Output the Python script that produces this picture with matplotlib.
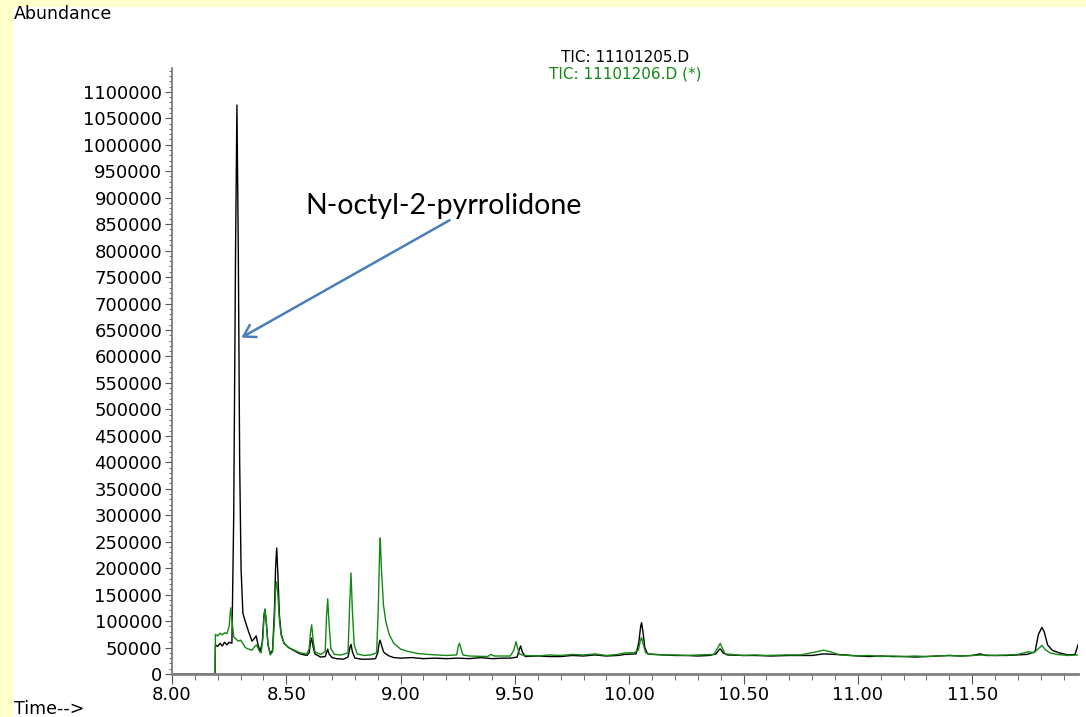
import matplotlib.pyplot as plt
from matplotlib.ticker import MultipleLocator, FormatStrFormatter, FuncFormatter
from matplotlib.patches import Rectangle

# retention time (min) and abundance (x1000)
t_205 = [8.00, 8.188, 8.190, 8.20, 8.21, 8.22, 8.23, 8.24, 8.25, 8.262, 8.270, 8.278, 8.284,
         8.290, 8.296, 8.302, 8.310, 8.320, 8.335, 8.350, 8.362, 8.368, 8.375, 8.385, 8.395,
         8.402, 8.407, 8.413, 8.420, 8.430, 8.440, 8.448, 8.453, 8.458, 8.463, 8.470, 8.478,
         8.490, 8.51, 8.53, 8.56, 8.59, 8.600, 8.606, 8.611, 8.617, 8.625, 8.65, 8.670, 8.677,
         8.681, 8.687, 8.70, 8.72, 8.75, 8.770, 8.778, 8.783, 8.789, 8.80, 8.83, 8.86, 8.89,
         8.900, 8.906, 8.910, 8.916, 8.925, 8.935, 8.95, 8.97, 9.00, 9.05, 9.10, 9.15, 9.20,
         9.25, 9.30, 9.35, 9.40, 9.45, 9.48, 9.510, 9.518, 9.525, 9.532, 9.545, 9.60, 9.65,
         9.70, 9.75, 9.80, 9.85, 9.90, 9.95, 9.98, 10.03, 10.042, 10.050, 10.054, 10.060,
         10.068, 10.080, 10.15, 10.20, 10.25, 10.30, 10.35, 10.380, 10.395, 10.400, 10.410,
         10.43, 10.50, 10.55, 10.62, 10.70, 10.80, 10.85, 10.90, 10.95, 11.00, 11.05, 11.10,
         11.15, 11.20, 11.25, 11.30, 11.35, 11.40, 11.45, 11.50, 11.535, 11.56, 11.60, 11.65,
         11.70, 11.74, 11.775, 11.790, 11.805, 11.815, 11.830, 11.850, 11.88, 11.92, 11.950,
         11.963]
a_205 = [0, 0, 55, 52, 58, 53, 60, 55, 60, 58, 300, 800, 1075,
         800, 400, 200, 115, 100, 80, 62, 68, 72, 58, 42, 60,
         110, 120, 95, 55, 38, 45, 120, 200, 238, 190, 110, 75,
         58, 50, 45, 38, 35, 40, 60, 68, 52, 38, 32, 33, 42,
         47, 38, 31, 29, 28, 32, 50, 56, 42, 30, 28, 28, 29,
         40, 58, 64, 55, 42, 38, 34, 31, 30, 31, 29, 30, 29,
         30, 29, 31, 29, 30, 30, 32, 45, 53, 42, 33, 34, 33,
         33, 35, 34, 36, 34, 35, 37, 38, 60, 90, 97, 80,
         50, 38, 36, 35, 35, 34, 35, 38, 47, 47, 40,
         36, 35, 35, 34, 35, 35, 38, 37, 36, 34, 33, 34,
         33, 33, 32, 33, 34, 35, 34, 35, 38, 35, 35, 35,
         36, 37, 42, 75, 88, 80, 55, 45, 40, 36, 37,
         55]

t_206 = [8.00, 8.188, 8.190, 8.200, 8.210, 8.220, 8.230, 8.240, 8.250, 8.257, 8.264, 8.270,
         8.280, 8.290, 8.300, 8.310, 8.320, 8.335, 8.350, 8.362, 8.370, 8.380, 8.390, 8.398,
         8.403, 8.407, 8.413, 8.420, 8.430, 8.440, 8.448, 8.453, 8.458, 8.463, 8.470, 8.478,
         8.490, 8.51, 8.53, 8.56, 8.59, 8.600, 8.606, 8.611, 8.617, 8.625, 8.650, 8.670, 8.676,
         8.681, 8.687, 8.695, 8.71, 8.74, 8.77, 8.777, 8.783, 8.789, 8.797, 8.81, 8.84, 8.87,
         8.895, 8.902, 8.908, 8.911, 8.916, 8.925, 8.935, 8.950, 8.970, 9.00, 9.03, 9.07, 9.12,
         9.20, 9.245, 9.252, 9.257, 9.263, 9.272, 9.30, 9.38, 9.395, 9.41, 9.48, 9.495, 9.505,
         9.512, 9.520, 9.54, 9.60, 9.65, 9.70, 9.75, 9.80, 9.85, 9.90, 9.95, 9.98, 10.02,
         10.040, 10.048, 10.054, 10.062, 10.072, 10.10, 10.15, 10.20, 10.25, 10.30, 10.370,
         10.385, 10.398, 10.408, 10.42, 10.50, 10.55, 10.60, 10.68, 10.75, 10.82, 10.85, 10.88,
         10.92, 11.00, 11.05, 11.10, 11.15, 11.20, 11.25, 11.30, 11.35, 11.40, 11.45, 11.50,
         11.55, 11.60, 11.65, 11.70, 11.745, 11.770, 11.790, 11.805, 11.820, 11.840, 11.870,
         11.92, 11.963]
a_206 = [0, 0, 75, 72, 77, 74, 78, 76, 90, 125, 95, 70,
         66, 62, 64, 58, 50, 47, 45, 52, 55, 45, 40, 70,
         115, 123, 95, 55, 36, 42, 100, 160, 174, 150, 100, 72,
         58, 50, 46, 40, 38, 48, 80, 93, 65, 42, 37, 42, 110,
         142, 95, 48, 37, 36, 40, 130, 191, 120, 55, 38, 35, 36,
         40, 120, 230, 257, 200, 130, 100, 75, 58, 47, 43, 39, 37,
         35, 36, 52, 58, 50, 36, 34, 33, 37, 34, 34, 45, 61,
         48, 38, 35, 34, 36, 35, 37, 36, 38, 35, 37, 40, 40,
         45, 62, 69, 55, 40, 37, 36, 36, 35, 36, 37,
         48, 58, 48, 38, 35, 36, 35, 36, 36, 42, 45, 42,
         36, 34, 35, 33, 34, 33, 34, 33, 34, 35, 34, 35,
         36, 35, 36, 37, 42, 40, 48, 54, 46, 40, 37,
         35, 36]

labels = ["TIC: 11101205.D", "TIC: 11101206.D (*)"]
compound = "N-octyl-2-pyrrolidone"

fig = plt.figure(figsize=(10.86, 7.17), dpi=100, facecolor="#ffffcc")
fig.patches.append(Rectangle((13 / 1086, 0), 1, 1 - 7 / 717, transform=fig.transFigure,
                             facecolor="white", edgecolor="none", zorder=-10))
ax = fig.add_axes([172 / 1086, 1 - 674 / 717, (1078 - 172) / 1086, (674 - 68) / 717])
ax.set_facecolor("none")

ax.plot(t_205, [a * 1000 for a in a_205], color="black", lw=1.0)
ax.plot(t_206, [a * 1000 for a in a_206], color="#128a12", lw=1.0)

ax.set_xlim(8.0, 11.963)
ax.set_ylim(0, 1145000)
ax.xaxis.set_major_locator(MultipleLocator(0.5))
ax.xaxis.set_minor_locator(MultipleLocator(0.1))
ax.xaxis.set_major_formatter(FormatStrFormatter("%.2f"))
ax.yaxis.set_major_locator(MultipleLocator(50000))
ax.yaxis.set_minor_locator(MultipleLocator(10000))
ax.yaxis.set_major_formatter(FuncFormatter(lambda v, p: "%d" % v))

for s in ["top", "right"]:
    ax.spines[s].set_visible(False)
ax.spines["left"].set_color("#707070")
ax.spines["left"].set_linewidth(1.2)
ax.spines["bottom"].set_color("#808080")
ax.spines["bottom"].set_linewidth(2.0)

font = "DejaVu Sans"
ax.tick_params(axis="both", which="major", labelsize=13, color="#555555", pad=2)
ax.tick_params(axis="y", which="major", length=5)
ax.tick_params(axis="y", which="minor", length=2.5, color="#555555")
ax.tick_params(axis="x", which="major", length=7)
ax.tick_params(axis="x", which="minor", length=4, color="#555555")
for lab in ax.get_xticklabels() + ax.get_yticklabels():
    lab.set_family(font)

fig.text(14 / 1086, 1 - 14 / 717, "Abundance", fontsize=12.5, family=font, va="center")
fig.text(14 / 1086, 1 - 709 / 717, "Time-->", fontsize=12.5, family=font, va="center")
fig.text(625 / 1086, 1 - 58 / 717, labels[0], fontsize=11, family=font,
         ha="center", va="center", color="black")
fig.text(625 / 1086, 1 - 74 / 717, labels[1], fontsize=11, family=font,
         ha="center", va="center", color="#128a12")

ax.annotate("", xy=(8.293, 633000), xytext=(9.225, 860000),
            arrowprops=dict(arrowstyle="->,head_length=0.8,head_width=0.5",
                            color="#4a7ebb", lw=1.8))
ax.text(8.582, 885000, compound, fontsize=20.5, family="Lato", va="center", ha="left")

fig.savefig("out.png", dpi=100, facecolor=fig.get_facecolor())
